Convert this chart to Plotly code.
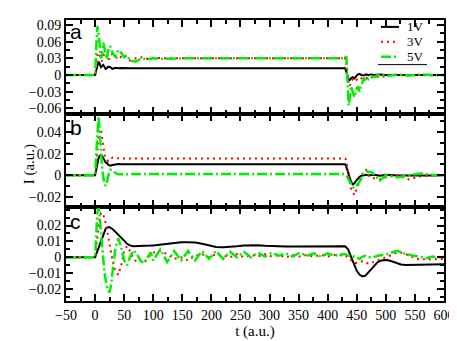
import plotly.graph_objects as go
from plotly.subplots import make_subplots

# time grid shared by panels a and b
t = [-50, 0, 2, 4, 6, 8, 10, 12, 14, 16, 18, 20, 23, 26, 30, 35, 40, 45, 50, 55, 60, 70, 80, 90, 100, 120, 150, 200, 300,
     430, 432, 434, 436, 438, 440, 443, 446, 449, 452, 455, 458, 462, 466, 470, 475, 480, 490, 500, 520, 540, 560, 580, 600]

# panel a
a_1v = [0, 0, 0.008, 0.018, 0.024, 0.02, 0.014, 0.016, 0.018, 0.015, 0.011, 0.012, 0.015, 0.014, 0.011, 0.013, 0.012, 0.0125, 0.012, 0.012, 0.012, 0.012, 0.012, 0.012, 0.012, 0.012, 0.012, 0.012, 0.012,
        0.012, 0.006, -0.004, -0.01, -0.009, -0.006, -0.004, -0.006, -0.002, 0.001, 0.002, 0.0, -0.001, 0.001, 0.0, 0.001, 0.0, 0.001, 0.0, 0.0, 0.001, 0.0, 0.0, 0.0]
a_3v = [0, 0, 0.015, 0.035, 0.04, 0.036, 0.028, 0.025, 0.034, 0.04, 0.036, 0.03, 0.027, 0.035, 0.038, 0.032, 0.028, 0.033, 0.036, 0.031, 0.026, 0.03, 0.032, 0.029, 0.031, 0.03, 0.03, 0.03, 0.03,
        0.03, 0.024, 0.005, -0.018, -0.02, -0.012, -0.008, -0.012, -0.01, -0.006, -0.008, -0.006, -0.004, -0.006, -0.003, -0.005, -0.002, -0.004, -0.002, 0.0, -0.001, 0.0, -0.001, 0.0]
a_5v = [0, 0, 0.05, 0.088, 0.075, 0.045, 0.03, 0.035, 0.058, 0.05, 0.035, 0.028, 0.045, 0.052, 0.04, 0.032, 0.045, 0.04, 0.032, 0.036, 0.026, 0.024, 0.03, 0.028, 0.03, 0.029, 0.03, 0.03, 0.03,
        0.03, 0.034, -0.01, -0.055, -0.04, -0.02, -0.03, -0.04, -0.028, -0.02, -0.03, -0.02, -0.005, -0.012, -0.008, -0.002, -0.004, 0.002, -0.002, 0.001, -0.001, 0.001, 0.0, 0.0]

# panel b
b_1v = [0, 0, 0.005, 0.012, 0.016, 0.018, 0.019, 0.018, 0.0165, 0.014, 0.012, 0.0115, 0.0095, 0.0088, 0.0095, 0.0103, 0.0105, 0.0102, 0.0102, 0.0102, 0.0102, 0.0102, 0.0102, 0.0102, 0.0102, 0.0102, 0.0102, 0.0102, 0.0102,
        0.0102, 0.008, 0.004, 0.001, -0.003, -0.006, -0.0085, -0.0075, -0.005, -0.003, -0.0015, -0.0005, 0.0, 0.0003, -0.0003, 0.0, 0.0003, -0.0005, 0.0003, -0.0003, -0.0005, 0.0, -0.0003, 0.0]
b_3v = [0, 0, 0.01, 0.025, 0.036, 0.042, 0.043, 0.036, 0.026, 0.02, 0.016, 0.014, 0.013, 0.0145, 0.0165, 0.016, 0.0155, 0.0155, 0.0155, 0.0155, 0.0155, 0.0155, 0.0155, 0.0155, 0.0155, 0.0155, 0.0155, 0.0155, 0.0155,
        0.0155, 0.014, 0.008, 0.0, -0.007, -0.012, -0.016, -0.0185, -0.014, -0.009, -0.006, -0.002, 0.004, 0.005, 0.0, -0.001, -0.003, -0.004, -0.002, 0.0, -0.004, -0.001, 0.0, 0.0]
b_5v = [0, 0, 0.02, 0.045, 0.055, 0.04, 0.022, 0.008, -0.002, -0.008, -0.01, -0.007, 0.0, 0.005, 0.005, 0.002, 0.0008, 0.001, 0.001, 0.001, 0.001, 0.001, 0.001, 0.001, 0.001, 0.001, 0.001, 0.001, 0.001,
        0.001, 0.0, -0.002, -0.004, -0.007, -0.009, -0.011, -0.012, -0.01, -0.009, -0.006, -0.003, 0.003, 0.004, 0.003, 0.003, 0.0, -0.005, 0.0, -0.002, 0.0, 0.0015, 0.0005, 0.0]

# panel c has its own (denser) grid
tc = [-50, 0, 2, 4, 6, 8, 10, 12, 14, 16, 18, 20, 22, 25, 28, 31, 35, 40, 45, 50, 55, 60, 66, 72, 78, 84, 90, 96,
      100, 112, 124, 136, 148, 160, 172, 184, 196, 208, 220, 232, 244, 256, 268, 280, 292, 304, 316, 328, 340, 352, 364, 376, 388, 400, 412, 424,
      430, 435, 440, 445, 450, 455, 460, 465, 470, 478, 486, 494, 502, 510, 518, 526, 534, 542, 550, 560, 570, 580, 590, 600]
c_1v = [0, 0, 0.002, 0.004, 0.006, 0.008, 0.0105, 0.013, 0.015, 0.0165, 0.0178, 0.0186, 0.019, 0.019, 0.0185, 0.0175, 0.016, 0.0143, 0.0125, 0.0105, 0.0085, 0.0075, 0.007, 0.007, 0.007, 0.007, 0.0072, 0.0074,
        0.0075, 0.008, 0.0088, 0.0093, 0.0095, 0.0095, 0.0093, 0.0085, 0.0075, 0.0065, 0.0063, 0.0065, 0.007, 0.0075, 0.0077, 0.0076, 0.0073, 0.007, 0.0069, 0.0068, 0.0068, 0.0068, 0.0069, 0.0069, 0.0069, 0.0069, 0.0069, 0.0069,
        0.0069, 0.005, 0.001, -0.004, -0.0085, -0.011, -0.012, -0.0115, -0.0095, -0.006, -0.003, -0.0018, -0.0017, -0.0025, -0.0035, -0.0045, -0.0048, -0.0048, -0.0046, -0.0045, -0.0044, -0.0044, -0.0044, -0.0044]
c_3v = [0, 0, 0.006, 0.013, 0.02, 0.025, 0.028, 0.028, 0.027, 0.025, 0.022, 0.018, 0.014, 0.008, 0.002, -0.004, -0.009, -0.011, -0.005, 0.004, 0.007, 0.004, -0.001, -0.003, -0.002, -0.003, -0.001, 0.002,
        0.003, 0.004, 0.002, -0.001, 0.0, -0.002, 0.001, 0.002, 0.0, 0.002, 0.001, 0.0, 0.002, 0.0, 0.0015, 0.0005, 0.002, 0.0005, 0.0015, 0.0, 0.0015, 0.0005, 0.0015, 0.0005, 0.0015, 0.0005, 0.0015, 0.001,
        0.001, 0.0, -0.002, -0.0035, -0.0035, -0.003, -0.0025, -0.003, -0.004, -0.003, -0.002, -0.001, 0.0, 0.0015, 0.0028, 0.003, 0.002, 0.0005, -0.0005, -0.0015, -0.001, -0.0015, -0.001, -0.001]
c_5v = [0, 0, 0.015, 0.028, 0.031, 0.026, 0.016, 0.006, -0.003, -0.009, -0.014, -0.018, -0.021, -0.022, -0.016, -0.006, 0.006, 0.012, 0.006, -0.002, -0.005, 0.0, 0.0045, 0.002, -0.002, -0.004, 0.0, 0.003,
        -0.002, 0.005, -0.003, 0.004, -0.002, 0.004, -0.002, 0.004, -0.001, 0.004, -0.001, 0.0035, 0.0, 0.0035, 0.0, 0.003, 0.0005, 0.003, 0.001, 0.0025, 0.0005, 0.003, 0.001, 0.0025, 0.0005, 0.0025, 0.001, 0.002,
        0.002, 0.001, 0.0015, 0.0005, 0.0, -0.001, 0.0005, 0.001, 0.0, 0.0, 0.001, 0.0015, 0.002, 0.003, 0.004, 0.0035, 0.002, 0.0015, 0.001, 0.0, -0.0005, 0.0005, 0.0, 0.0005]

names = ["1V", "3V", "5V"]
yticks_a = [-0.06, -0.03, 0, 0.03, 0.06, 0.09]
yticks_b = [-0.02, 0, 0.02, 0.04]
yticks_c = [-0.02, -0.01, 0, 0.01, 0.02]

panels = [(t, [a_1v, a_3v, a_5v]), (t, [b_1v, b_3v, b_5v]), (tc, [c_1v, c_3v, c_5v])]
styles = [dict(color="black", width=2, dash="solid"),
          dict(color="#ff0000", width=2, dash="2px,4px"),
          dict(color="#00ee00", width=2.5, dash="10px,3px,2px,3px")]

fig = make_subplots(rows=3, cols=1, shared_xaxes=True, vertical_spacing=0)
for r, (tt, series) in enumerate(panels, start=1):
    for i, ys in enumerate(series):
        fig.add_trace(go.Scatter(x=tt, y=ys, mode="lines", name=names[i], line=styles[i],
                                 showlegend=False), row=r, col=1)

# paper spans y = 0..293 px (top margin 0), panels drawn at 10-105, 105-198, 198-293
H = 293.0
W = 378.0
domains = [[(H - 105) / H, (H - 10) / H], [(H - 198) / H, (H - 105) / H], [0, (H - 198) / H]]

serif = "Liberation Serif"
axis_common = dict(showline=True, mirror="allticks", linecolor="black", linewidth=2, ticks="inside",
                   ticklen=7, tickwidth=1.5, tickcolor="black", showgrid=False, zeroline=False,
                   tickfont=dict(family=serif, size=14, color="black"))
for r in (1, 2, 3):
    fig.update_xaxes(range=[-50, 600], dtick=50, tick0=0, showticklabels=(r == 3),
                     minor=dict(dtick=25, ticklen=4, ticks="inside", tickcolor="black"),
                     row=r, col=1, **axis_common)
fig.update_yaxes(range=[-0.0707, 0.099], tickvals=yticks_a, domain=domains[0],
                 minor=dict(dtick=0.015, ticklen=4, ticks="inside", tickcolor="black"), row=1, col=1, **axis_common)
fig.update_yaxes(range=[-0.0293, 0.0567], tickvals=yticks_b, domain=domains[1],
                 minor=dict(dtick=0.01, ticklen=4, ticks="inside", tickcolor="black"), row=2, col=1, **axis_common)
fig.update_yaxes(range=[-0.0275, 0.0319], tickvals=yticks_c, domain=domains[2],
                 minor=dict(dtick=0.005, ticklen=4, ticks="inside", tickcolor="black"), row=3, col=1, **axis_common)
fig.update_xaxes(title=dict(text="t (a.u.)", font=dict(family=serif, size=15, color="black"), standoff=2), row=3, col=1)

for letter, py in [("a", 22), ("b", 118), ("c", 213)]:
    fig.add_annotation(text=letter, x=0.004, y=(H - py) / H, xref="paper", yref="paper", xanchor="left", yanchor="middle",
                       showarrow=False, font=dict(family="Liberation Sans", size=21, color="black"))
fig.add_annotation(text="I (a.u.)", x=-0.122, y=(H - 155) / H, xref="paper", yref="paper", textangle=-90,
                   showarrow=False, font=dict(family=serif, size=15, color="black"))

# compact legend box (rows 15 px apart, underline below), as in the original figure
for i, py in enumerate([17, 32, 47]):
    yp = (H - py) / H
    fig.add_shape(type="line", x0=(373 - 58) / W, x1=(391 - 58) / W, y0=yp, y1=yp, xref="paper", yref="paper",
                  line=styles[i])
    fig.add_annotation(text=names[i], x=(397 - 58) / W, y=yp, xref="paper", yref="paper", xanchor="left",
                       yanchor="middle", showarrow=False, font=dict(family=serif, size=13, color="black"))
fig.add_shape(type="line", x0=(370 - 58) / W, x1=(419 - 58) / W, y0=(H - 55) / H, y1=(H - 55) / H,
              xref="paper", yref="paper", line=dict(color="black", width=1))

fig.update_layout(
    width=457, height=341,
    margin=dict(l=58, r=21, t=0, b=48),
    paper_bgcolor="white", plot_bgcolor="white",
    font=dict(family=serif, size=14, color="black"),
    showlegend=False,
)
fig.write_html("out.html")
